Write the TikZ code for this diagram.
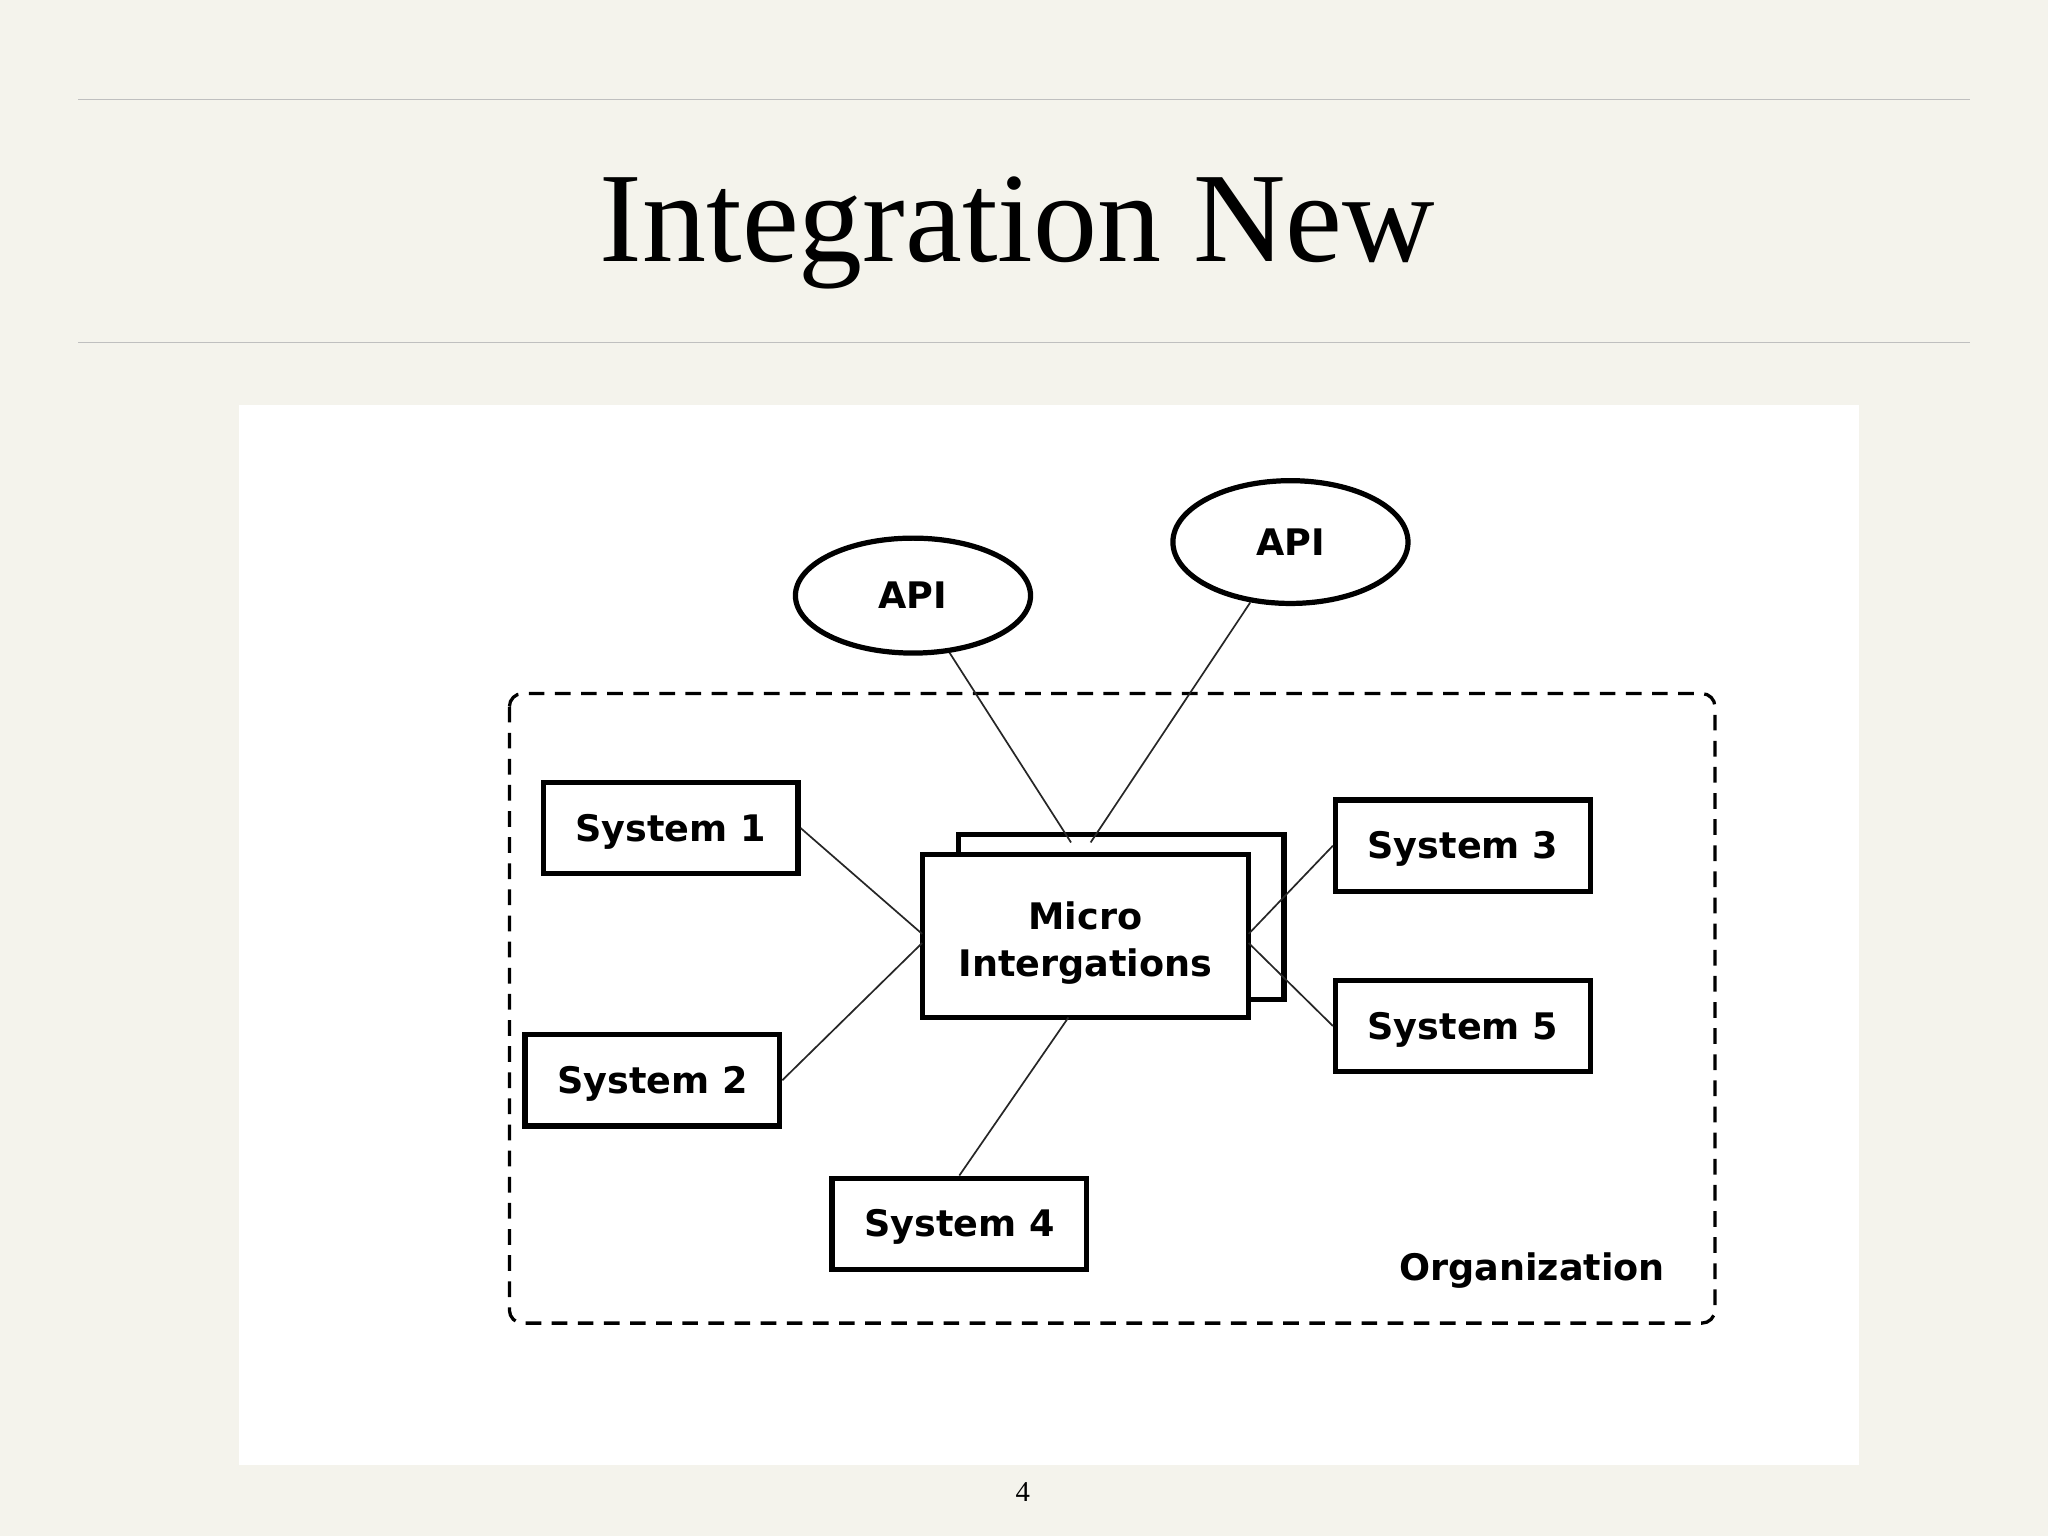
\documentclass[tikz,border=0pt]{standalone}
\usepackage{fontspec}
\setmainfont{Liberation Serif}
\newfontfamily\diafont{DejaVu Sans}
\usetikzlibrary{shapes.geometric}
\definecolor{bg}{HTML}{F4F3EC}
\tikzset{
 dia/.style={font=\diafont\bfseries\fontsize{28}{34}\selectfont},
 conn/.style={line width=1.3pt, draw=black!85},
}
\begin{document}
\begin{tikzpicture}[x=1pt,y=-1pt]
\fill[bg] (0,0) rectangle (1568,1176);
\useasboundingbox (0,0) rectangle (1568,1176);
\draw[black!25, line width=1pt] (60,76) -- (1508,76) (60,262) -- (1508,262);
\node (title) at (779,178) {\fontsize{98}{112}\selectfont Integration New};
\fill[white] (183,310) rectangle (1423,1122);
\draw[line width=2.5pt, dash pattern=on 12pt off 8pt, rounded corners=10pt] (390,531) rectangle (1313,1013);
\draw[line width=4pt, fill=white] (734,639) rectangle (983,765);
\draw[line width=4pt, fill=white] (706,654) rectangle (956,779);
\node[dia, align=center, inner sep=0] (mi) at (831,722) {Micro\\[2pt]Intergations};
\coordinate (mT1) at (820,645); \coordinate (mT2) at (835,645);
\coordinate (mB) at (818,779);
\tikzset{sb/.style={dia, draw, line width=4pt, minimum height=70pt, minimum width=195pt, inner sep=0, text depth=0pt, text height=20pt}}
\node[sb] (s1) at (513.5,634) {System 1};
\node[sb] (s2) at (499.5,827) {System 2};
\node[sb] (s3) at (1120,647.5) {System 3};
\node[sb] (s5) at (1120,785.5) {System 5};
\node[sb] (s4) at (734.5,937) {System 4};
\node[dia, draw, ellipse, line width=4pt, minimum width=180pt, minimum height=88pt, inner sep=0, text depth=0pt, text height=20pt] (a1) at (699,456) {API};
\node[dia, draw, ellipse, line width=4pt, minimum width=180pt, minimum height=94pt, inner sep=0, text depth=0pt, text height=20pt] (a2) at (988,415) {API};
\node[dia] (org) at (1173,973) {Organization};
\draw[conn] (a1) -- (mT1);
\draw[conn] (a2) -- (mT2);
\draw[conn] (s1.east) -- (706,715);
\draw[conn] (s2.east) -- (706,722);
\draw[conn] (s3.west) -- (956,715);
\draw[conn] (s5.west) -- (956,722);
\draw[conn] (s4.north) -- (mB);
\node (pg) at (783,1142) {\fontsize{22}{26}\selectfont 4};
\end{tikzpicture}
\end{document}
